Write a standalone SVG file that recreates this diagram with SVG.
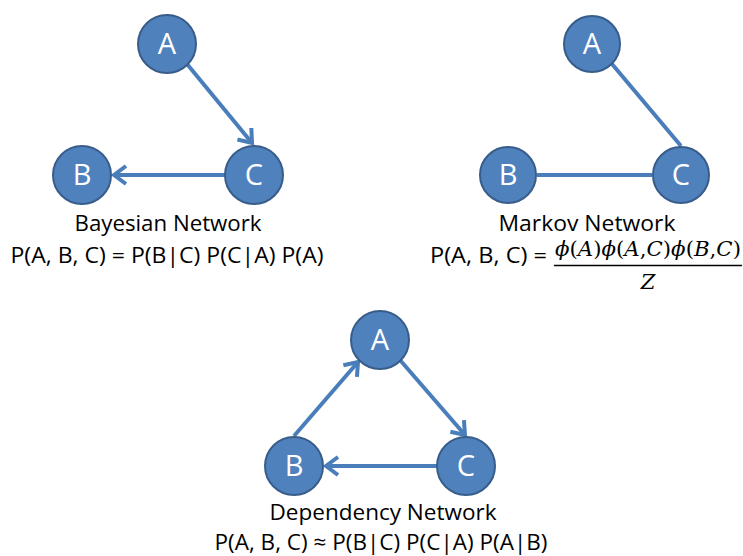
<svg xmlns="http://www.w3.org/2000/svg" width="743" height="556" viewBox="0 0 743 556">
<style>
.node circle{fill:#4F81BD;stroke:#385D8A;stroke-width:2}
.node text{fill:#fff;font-family:"Open Sans","Liberation Sans",sans-serif;font-size:29px;text-anchor:middle}
.edge{stroke:#4A7EBB;stroke-width:4;fill:none}
.cap{font-family:"Open Sans","Liberation Sans",sans-serif;font-size:22px;fill:#000;text-anchor:middle}
.math{font-family:"DejaVu Serif","Liberation Serif",serif;font-size:21px;fill:#000}
</style>
<defs>
<marker id="arr" markerUnits="userSpaceOnUse" markerWidth="30" markerHeight="30" viewBox="-15 -15 30 30" refX="0" refY="0" orient="auto">
<path d="M-12,-9 L0,0 L-12,9" stroke="#4A7EBB" stroke-width="4" fill="none" stroke-linejoin="miter"/>
</marker>
</defs>
<rect width="743" height="556" fill="#fff"/>
<g id="connectors">
<line class="edge" x1="187" y1="64" x2="252" y2="143" marker-end="url(#arr)"/>
<line class="edge" x1="225" y1="175" x2="114" y2="175" marker-end="url(#arr)"/>
<line class="edge" x1="612" y1="64" x2="681" y2="146"/>
<line class="edge" x1="537" y1="175" x2="652" y2="175"/>
<line class="edge" x1="294" y1="436" x2="358" y2="362" marker-end="url(#arr)"/>
<line class="edge" x1="400" y1="360" x2="465" y2="435" marker-end="url(#arr)"/>
<line class="edge" x1="437" y1="466" x2="326" y2="466" marker-end="url(#arr)"/>
</g>
<g id="bayes-A" class="node"><circle cx="167" cy="44" r="29"/><text x="167" y="54">A</text></g>
<g id="bayes-B" class="node"><circle cx="82" cy="175" r="29"/><text x="82" y="185">B</text></g>
<g id="bayes-C" class="node"><circle cx="254" cy="175" r="29"/><text x="254" y="185">C</text></g>
<g id="markov-A" class="node"><circle cx="592" cy="44" r="28"/><text x="592" y="54">A</text></g>
<g id="markov-B" class="node"><circle cx="508" cy="175" r="28"/><text x="508" y="185">B</text></g>
<g id="markov-C" class="node"><circle cx="681" cy="175" r="28"/><text x="681" y="185">C</text></g>
<g id="dep-A" class="node"><circle cx="380" cy="340" r="29"/><text x="380" y="350">A</text></g>
<g id="dep-B" class="node"><circle cx="294" cy="466" r="29"/><text x="294" y="476">B</text></g>
<g id="dep-C" class="node"><circle cx="466" cy="466" r="29"/><text x="466" y="476">C</text></g>
<g id="labels">
<text class="cap" x="168" y="231" textLength="187" lengthAdjust="spacingAndGlyphs">Bayesian Network</text>
<text class="cap" x="167" y="263" textLength="313" lengthAdjust="spacingAndGlyphs">P(A, B, C) = P(B|C) P(C|A) P(A)</text>
<text class="cap" x="587" y="231" textLength="177" lengthAdjust="spacingAndGlyphs">Markov Network</text>
<text class="cap" x="430" y="263" style="text-anchor:start" textLength="117" lengthAdjust="spacingAndGlyphs">P(A, B, C) =</text>
<text class="math" x="555" y="256" textLength="186" lengthAdjust="spacingAndGlyphs"><tspan font-style="italic">ϕ</tspan>(<tspan font-style="italic">A</tspan>)<tspan font-style="italic">ϕ</tspan>(<tspan font-style="italic">A</tspan>,<tspan font-style="italic">C</tspan>)<tspan font-style="italic">ϕ</tspan>(<tspan font-style="italic">B</tspan>,<tspan font-style="italic">C</tspan>)</text>
<line x1="554" y1="265.5" x2="742" y2="265.5" stroke="#000" stroke-width="1.3"/>
<text class="math" x="648" y="289" font-style="italic" text-anchor="middle">Z</text>
<text class="cap" x="383" y="520" textLength="227" lengthAdjust="spacingAndGlyphs">Dependency Network</text>
<text class="cap" x="381" y="550" textLength="333" lengthAdjust="spacingAndGlyphs">P(A, B, C) ≈ P(B|C) P(C|A) P(A|B)</text>
</g>
</svg>
